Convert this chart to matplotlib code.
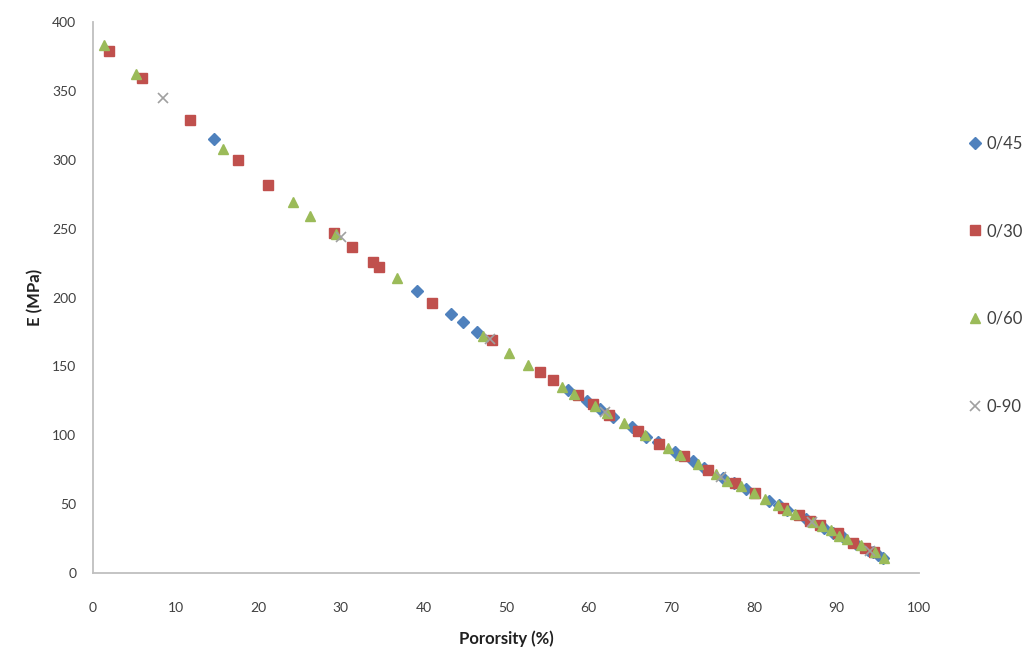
import numpy as np
import matplotlib
matplotlib.use("Agg")
import matplotlib.pyplot as plt

# porosity (%) / modulus E (MPa) for each lay-up
por_045 = [14.6, 39.2, 43.3, 44.8, 46.5, 57.5, 59.8, 61.4, 63.0, 65.2, 67.0, 68.4,
           70.5, 72.6, 74.0, 76.3, 77.6, 79.0, 81.8, 83.0, 84.0, 86.3, 88.5, 89.6,
           90.7, 92.4, 93.8, 94.4, 95.0, 95.6]
e_045 = [315, 205, 188, 182, 175, 133, 125, 119, 113, 106, 99, 95,
         88, 81, 76, 69, 65, 61, 52, 49, 46, 39, 33, 29,
         27, 21, 17, 15, 13, 11]

por_030 = [2.0, 5.9, 11.7, 17.6, 21.2, 29.2, 31.4, 33.9, 34.6, 41.0, 48.3, 54.1,
           55.7, 58.7, 60.5, 62.5, 66.0, 68.5, 71.5, 74.5, 77.7, 80.1, 83.5, 85.4,
           86.8, 88.0, 90.2, 92.0, 93.5, 94.5]
e_030 = [379, 359, 329, 300, 282, 247, 237, 226, 222, 196, 169, 146,
         140, 129, 123, 115, 103, 94, 85, 75, 65, 58, 47, 42,
         38, 35, 29, 22, 18, 15]

por_060 = [1.3, 5.2, 15.8, 24.2, 26.3, 29.4, 36.8, 47.2, 50.4, 52.6, 56.8, 58.2,
           60.8, 62.2, 64.3, 66.8, 69.6, 71.0, 73.2, 75.4, 76.8, 78.4, 80.0, 81.3,
           82.9, 84.0, 85.0, 87.1, 88.2, 89.3, 90.3, 91.3, 93.0, 94.6, 95.8]
e_060 = [383, 362, 308, 269, 259, 246, 214, 172, 160, 151, 135, 130,
         121, 116, 109, 100, 91, 86, 79, 72, 67, 63, 58, 54,
         49, 46, 43, 37, 34, 31, 27, 25, 20, 15, 11]

por_090 = [8.5, 30.0, 48.0, 62.0, 76.0, 87.0, 94.0]
e_090 = [345, 244, 170, 117, 70, 37, 16]

labels = ["0/45", "0/30", "0/60", "0-90"]

plt.rcParams['font.family'] = ['Lato', 'DejaVu Sans']

fig = plt.figure(figsize=(10.34, 6.55), dpi=100)
ax = fig.add_axes([0.0899, 0.1252, 0.799, 0.8412])

ax.plot(por_045, e_045, linestyle='none', marker='D', ms=6.5, color='#4F81BD',
        mec='#4F81BD', label=labels[0])
ax.plot(por_030, e_030, linestyle='none', marker='s', ms=7.5, color='#C0504D',
        mec='#C0504D', label=labels[1])
ax.plot(por_060, e_060, linestyle='none', marker='^', ms=7, color='#9BBB59',
        mec='#9BBB59', label=labels[2])
ax.plot(por_090, e_090, linestyle='none', marker='x', ms=7.5, color='#A0A0A0',
        mew=1.2, label=labels[3])

ax.set_xlim(0, 100)
ax.set_ylim(0, 400)
ax.set_xticks(np.arange(0, 101, 10))
ax.set_yticks(np.arange(0, 401, 50))

for side in ['top', 'right']:
    ax.spines[side].set_visible(False)
for side in ['left', 'bottom']:
    ax.spines[side].set_color('#BFBFBF')
    ax.spines[side].set_linewidth(1.3)

ax.tick_params(axis='both', length=0, labelsize=10, labelcolor='#404040')
ax.tick_params(axis='x', pad=21)
ax.tick_params(axis='y', pad=12)

ax.set_xlabel("Pororsity (%)", fontsize=12, fontweight='bold', color='#202020', labelpad=12)
ax.set_ylabel("E (MPa)", fontsize=12, fontweight='bold', color='#202020', labelpad=6)

fig.legend(loc='center left', bbox_to_anchor=(0.922, 0.58), frameon=False,
           fontsize=12, labelspacing=4.3, handlelength=0.8, handletextpad=0.3,
           labelcolor='#404040')

fig.savefig("out.png", dpi=100, facecolor='white')
